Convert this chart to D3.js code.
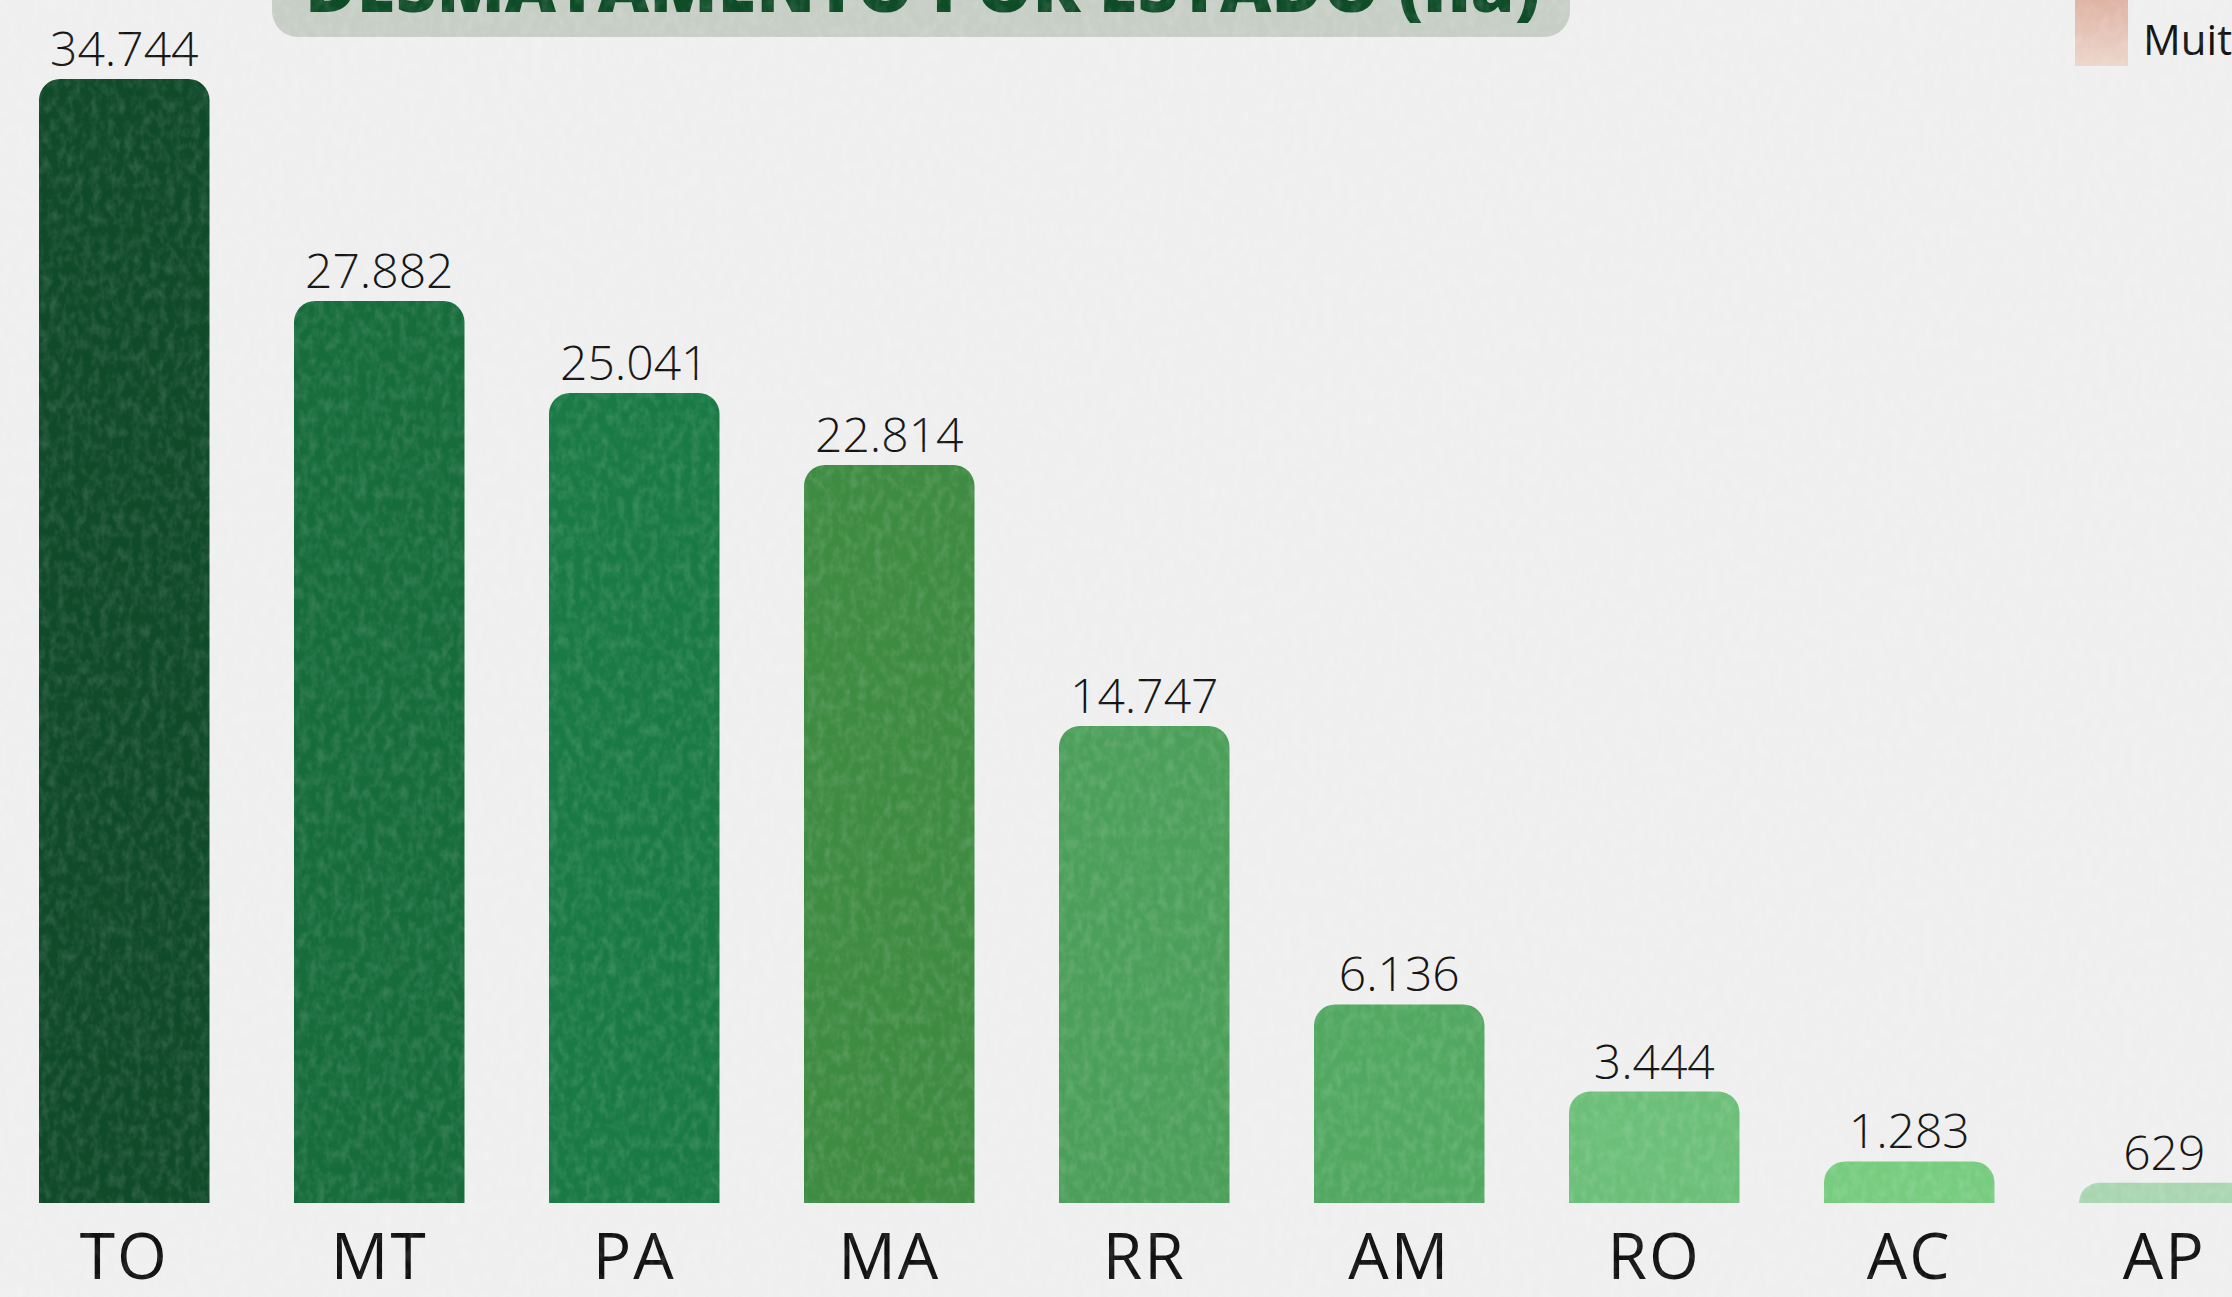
<!DOCTYPE html>
<html>
<head>
<meta charset="utf-8">
<script src="https://cdn.jsdelivr.net/npm/d3@7"></script>
<style>
  html, body { margin: 0; padding: 0; background: #efefef; overflow: hidden; }
  svg { display: block; }
</style>
</head>
<body>
<svg id="chart" width="2232" height="1297"></svg>
<script>
// ---- data ----
const categories = ["TO", "MT", "PA", "MA", "RR", "AM", "RO", "AC", "AP"];
const values = [34744, 27882, 25041, 22814, 14747, 6136, 3444, 1283, 629];
const titleText = "DESMATAMENTO POR ESTADO (ha)";
const legendLabels = ["Muito alto"];

// ---- styles ----
const barColors = ["#0f4a29", "#176c3c", "#1a7a45", "#3e8b42", "#4c9f5a", "#52a861", "#6cbf79", "#77cc80", "#a9d6b0"];

const W = 2232, H = 1297;
const svg = d3.select("#chart");

const defs = svg.append("defs");
const lg = defs.append("linearGradient").attr("id", "legGrad").attr("x1", 0).attr("y1", 0).attr("x2", 0).attr("y2", 1);
lg.append("stop").attr("offset", "0%").attr("stop-color", "#dcae9d");
lg.append("stop").attr("offset", "100%").attr("stop-color", "#ecd6cc");

const noise = defs.append("filter").attr("id", "noise").attr("x", 0).attr("y", 0).attr("width", "100%").attr("height", "100%");
noise.append("feTurbulence").attr("type", "fractalNoise").attr("baseFrequency", "0.12 0.08").attr("numOctaves", 3).attr("seed", 4).attr("result", "t");
noise.append("feColorMatrix").attr("type", "matrix")
  .attr("values", "0 0 0 0 1  0 0 0 0 1  0 0 0 0 1  0 0 0 -2.2 1.35");

// background
svg.append("rect").attr("width", W).attr("height", H).attr("fill", "#efefef");

// scales
const x = d3.scaleBand().domain(categories).range([39, 2249.5]).paddingInner(0.3314).paddingOuter(0);
const y = d3.scaleLinear().domain([0, 34744]).range([1203, 79]);

const fmt = d3.formatLocale({ decimal: ",", thousands: ".", grouping: [3], currency: ["R$", ""] }).format(",d");

function topRounded(x0, y0, w, h, r) {
  r = Math.min(r, h, w / 2);
  const p = d3.path();
  p.moveTo(x0, y0 + h);
  p.lineTo(x0, y0 + r);
  p.arcTo(x0, y0, x0 + r, y0, r);
  p.lineTo(x0 + w - r, y0);
  p.arcTo(x0 + w, y0, x0 + w, y0 + r, r);
  p.lineTo(x0 + w, y0 + h);
  p.closePath();
  return p.toString();
}

const data = categories.map((c, i) => ({ c, v: values[i], color: barColors[i] }));

// bars
svg.append("g").selectAll("path").data(data).join("path")
  .attr("d", d => topRounded(x(d.c), y(d.v), x.bandwidth(), y(0) - y(d.v), 21))
  .attr("fill", d => d.color);

// value labels
svg.append("g").selectAll("text").data(data).join("text")
  .attr("x", d => x(d.c) + x.bandwidth() / 2)
  .attr("y", d => y(d.v) - 13)
  .attr("text-anchor", "middle")
  .attr("font-family", "'Open Sans', sans-serif")
  .attr("font-weight", 300)
  .attr("font-size", 48)
  .attr("fill", "#111")
  .text(d => fmt(d.v));

// category axis labels
const xAxis = d3.axisBottom(x).tickSize(0).tickPadding(0);
const gx = svg.append("g").attr("transform", "translate(0,1203)").call(xAxis);
gx.select(".domain").remove();
gx.selectAll("text")
  .attr("y", 76)
  .attr("dy", 0)
  .attr("font-family", "'Open Sans', sans-serif")
  .attr("font-weight", 400)
  .attr("font-size", 64)
  .attr("letter-spacing", 2)
  .attr("fill", "#111");

// title box
const tb = svg.append("g");
tb.append("path").attr("d", (() => {
  const p = d3.path(); const x0 = 272, x1 = 1570, yb = 37, r = 26;
  p.moveTo(x0, -30); p.lineTo(x1, -30); p.lineTo(x1, yb - r);
  p.arcTo(x1, yb, x1 - r, yb, r); p.lineTo(x0 + r, yb);
  p.arcTo(x0, yb, x0, yb - r, r); p.closePath(); return p.toString();
})()).attr("fill", "#c6cec6");
tb.append("text").attr("x", 305).attr("y", 12)
  .attr("font-family", "'Open Sans', sans-serif").attr("font-weight", 800)
  .attr("font-size", 70).attr("fill", "#0e4b27")
  .attr("textLength", 1235).attr("lengthAdjust", "spacingAndGlyphs")
  .text(titleText);

// legend
const leg = svg.append("g");
leg.append("rect").attr("x", 2075).attr("y", -10).attr("width", 53).attr("height", 76).attr("fill", "url(#legGrad)");
leg.selectAll("text").data(legendLabels).join("text")
  .attr("x", 2143).attr("y", 55)
  .attr("font-family", "'Open Sans', sans-serif").attr("font-size", 42).attr("fill", "#111")
  .text(d => d);

// texture overlay
svg.append("rect").attr("width", W).attr("height", H).attr("filter", "url(#noise)").attr("opacity", 0.12).style("pointer-events", "none");
</script>
</body>
</html>
